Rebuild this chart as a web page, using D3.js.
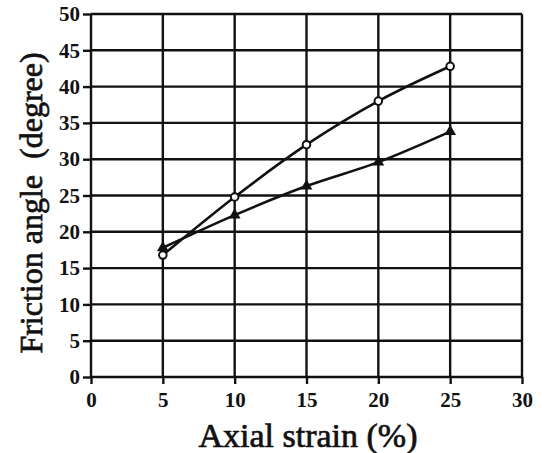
<!DOCTYPE html>
<html>
<head>
<meta charset="utf-8">
<script src="https://cdn.jsdelivr.net/npm/d3@7"></script>
<style>
  body { margin: 0; background: #fff; }
  text { font-family: "Liberation Serif", "DejaVu Serif", serif; fill: #111; }
</style>
</head>
<body>
<div id="chart"></div>
<script>
// data
let strain = [5, 10, 15, 20, 25];
let circleAngle = [16.8, 24.8, 32.0, 38.0, 42.8];
let triangleAngle = [17.8, 22.3, 26.3, 29.6, 33.8];
let xTicks = [0, 5, 10, 15, 20, 25, 30];
let yTicks = [0, 5, 10, 15, 20, 25, 30, 35, 40, 45, 50];

let width = 546, height = 453;
let margin = {top: 14, right: 24, bottom: 76, left: 91};

let svg = d3.select("#chart").append("svg")
    .attr("width", width)
    .attr("height", height);

let xScale = d3.scaleLinear().domain([0, 30]).range([margin.left, width - margin.right]);
let yScale = d3.scaleLinear().domain([0, 50]).range([height - margin.bottom, margin.top]);

// grid
let grid = svg.append("g").attr("stroke", "#111").attr("stroke-width", 2.4);
grid.selectAll(".vgrid").data(xTicks).enter().append("line")
    .attr("class", "vgrid")
    .attr("x1", d => xScale(d)).attr("x2", d => xScale(d))
    .attr("y1", yScale(0)).attr("y2", yScale(50));
grid.selectAll(".hgrid").data(yTicks).enter().append("line")
    .attr("class", "hgrid")
    .attr("x1", xScale(0)).attr("x2", xScale(30))
    .attr("y1", d => yScale(d)).attr("y2", d => yScale(d));

// axes
let xAxis = d3.axisBottom(xScale).tickValues(xTicks).tickSize(7).tickPadding(8);
let yAxis = d3.axisLeft(yScale).tickValues(yTicks).tickSize(8).tickPadding(3);

let xAx = svg.append("g")
    .attr("transform", "translate(0," + yScale(0) + ")")
    .call(xAxis);
let yAx = svg.append("g")
    .attr("transform", "translate(" + xScale(0) + ",0)")
    .call(yAxis);

[xAx, yAx].forEach(ax => {
    ax.select(".domain").remove();
    ax.selectAll(".tick line").attr("stroke", "#111").attr("stroke-width", 2.4);
    ax.selectAll(".tick text")
        .style("font-size", "21px")
        .style("font-weight", "bold")
        .style("font-family", "'Liberation Serif', serif")
        .attr("fill", "#111");
});

// axis titles
svg.append("text")
    .text("Axial strain (%)")
    .attr("x", 308).attr("y", 447)
    .style("text-anchor", "middle")
    .style("font-size", "34px")
    .attr("stroke", "#111").attr("stroke-width", 0.7);

svg.append("text")
    .text("Friction angle  (degree)")
    .style("text-anchor", "middle")
    .style("white-space", "pre")
    .style("font-size", "32px")
    .attr("stroke", "#111").attr("stroke-width", 0.7)
    .attr("transform", "translate(42," + 203 + ") rotate(270)");

// series
let circlePoints = strain.map((s, i) => ({x: s, y: circleAngle[i]}));
let trianglePoints = strain.map((s, i) => ({x: s, y: triangleAngle[i]}));

let lineGen = d3.line()
    .x(d => xScale(d.x))
    .y(d => yScale(d.y))
    .curve(d3.curveMonotoneX);

svg.append("path").datum(circlePoints)
    .attr("d", lineGen)
    .attr("fill", "none").attr("stroke", "#111").attr("stroke-width", 2.6);
svg.append("path").datum(trianglePoints)
    .attr("d", lineGen)
    .attr("fill", "none").attr("stroke", "#111").attr("stroke-width", 2.6);

svg.selectAll(".circlePt").data(circlePoints).enter().append("circle")
    .attr("class", "circlePt")
    .attr("cx", d => xScale(d.x))
    .attr("cy", d => yScale(d.y))
    .attr("r", 3.8)
    .attr("fill", "#fff")
    .attr("stroke", "#111").attr("stroke-width", 2);

let tri = d3.symbol().type(d3.symbolTriangle).size(60);
svg.selectAll(".triPt").data(trianglePoints).enter().append("path")
    .attr("class", "triPt")
    .attr("d", tri)
    .attr("transform", d => "translate(" + xScale(d.x) + "," + yScale(d.y) + ")")
    .attr("fill", "#111");
</script>
</body>
</html>
